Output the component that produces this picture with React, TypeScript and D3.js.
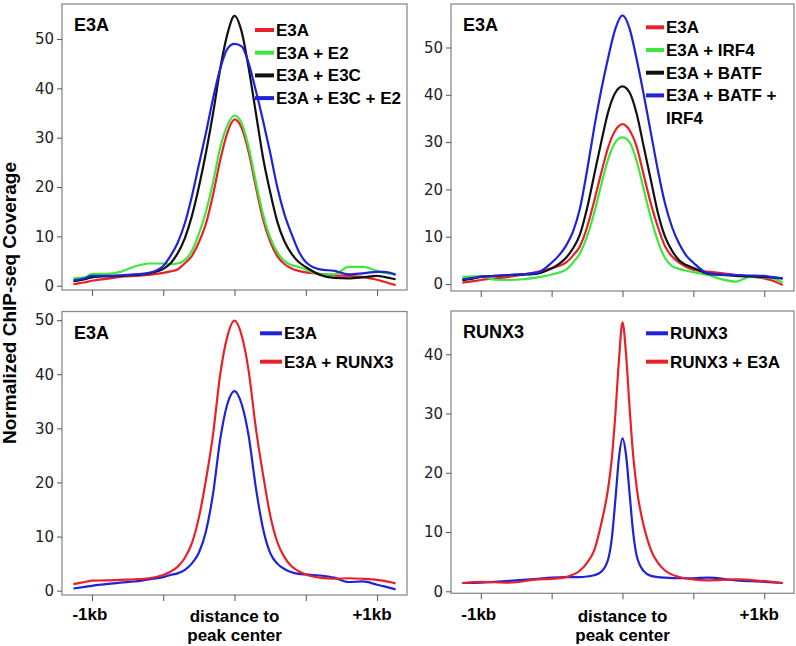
import React, { useEffect, useRef } from "react";
import * as d3 from "d3";

// distance to peak center, in kb
const KB = [
  -1.13, -1.05, -1.0, -0.9, -0.8, -0.7, -0.6, -0.5,
  -0.45, -0.4, -0.35, -0.3, -0.25, -0.2, -0.15, -0.1, -0.05,
  0,
  0.05, 0.1, 0.15, 0.2, 0.25, 0.3, 0.35, 0.4, 0.45, 0.5,
  0.6, 0.7, 0.8, 0.9, 1.0, 1.05, 1.13,
];
const KB_RUNX3 = [
  -1.13, -1.0, -0.8, -0.6, -0.5, -0.4, -0.3, -0.25, -0.2, -0.15, -0.1, -0.075, -0.05, -0.025,
  0,
  0.025, 0.05, 0.075, 0.1, 0.15, 0.2, 0.25, 0.3, 0.4, 0.5, 0.6, 0.8, 1.0, 1.13,
];

// panel 1: E3A with E2 / E3C
const p1E3A = [0.3, 0.7, 1.0, 1.4, 1.8, 2.0, 2.2, 2.6, 2.9, 3.3, 4.5, 6.0, 8.8, 12.6, 18.5, 25.5, 31.0, 33.7, 32.0, 27.0, 20.0, 13.5, 9.0, 6.0, 4.4, 3.5, 3.0, 2.7, 2.4, 2.1, 2.0, 1.8, 1.2, 0.8, 0.1];
const p1E2 = [1.5, 1.7, 2.4, 2.4, 2.8, 3.9, 4.5, 4.5, 4.4, 4.5, 5.2, 7.0, 10.5, 15.0, 21.0, 28.0, 32.5, 34.5, 33.0, 28.0, 21.0, 14.5, 9.8, 6.8, 5.0, 4.2, 3.8, 3.3, 2.3, 2.3, 3.8, 3.8, 3.0, 2.6, 2.4];
const p1E3C = [0.9, 1.3, 1.7, 1.9, 2.0, 2.2, 2.5, 3.4, 4.5, 6.5, 9.5, 14.0, 20.0, 27.0, 35.0, 44.0, 51.0, 54.7, 51.5, 44.0, 35.0, 26.0, 19.0, 13.0, 9.0, 6.5, 4.8, 3.8, 2.2, 1.6, 1.5, 1.7, 2.0, 1.8, 1.3];
const p1E3CE2 = [1.1, 1.5, 2.0, 2.0, 2.1, 2.3, 2.6, 4.0, 6.0, 8.6, 12.5, 18.0, 24.5, 31.0, 38.0, 44.0, 48.0, 49.0, 48.5, 45.0, 39.5, 33.5, 27.0, 20.0, 14.5, 10.5, 7.0, 4.8, 3.3, 3.0, 2.3, 2.5, 2.8, 2.8, 2.2];

// panel 2: E3A with IRF4 / BATF
const p2E3A = [0.3, 0.6, 0.85, 1.2, 1.5, 2.0, 2.6, 3.3, 3.8, 4.5, 6.0, 8.0, 12.0, 17.5, 23.5, 29.0, 32.5, 33.8, 32.5, 29.0, 23.0, 17.0, 12.0, 8.0, 5.8, 4.5, 3.6, 3.0, 2.6, 2.3, 1.9, 1.6, 1.2, 0.8, -0.2];
const p2IRF4 = [1.5, 1.6, 1.7, 0.9, 0.85, 1.0, 1.4, 2.0, 2.4, 3.0, 4.5, 6.5, 10.0, 15.0, 21.0, 26.5, 30.0, 31.0, 30.0, 26.0, 20.0, 14.0, 9.0, 5.5, 3.8, 3.2, 2.8, 2.5, 1.9, 1.0, 0.5, 1.5, 1.4, 1.3, 0.3];
const p2BATF = [0.8, 1.2, 1.5, 1.7, 1.9, 2.0, 2.2, 3.3, 4.2, 5.5, 7.5, 10.5, 16.0, 23.0, 30.0, 36.5, 40.5, 41.8, 40.5, 36.0, 29.0, 22.0, 15.0, 10.0, 7.0, 5.0, 4.0, 3.4, 2.2, 1.9, 1.7, 1.6, 1.5, 1.4, 1.2];
const p2BATFIRF4 = [1.0, 1.3, 1.5, 1.7, 1.9, 2.1, 2.4, 4.5, 6.0, 8.0, 11.0, 16.0, 24.0, 33.0, 41.0, 48.0, 54.0, 56.8, 54.0, 47.5, 40.0, 32.0, 24.0, 17.0, 12.0, 8.5, 6.0, 4.5, 2.3, 2.0, 1.9, 1.8, 1.7, 1.5, 1.2];

// panel 3: E3A with RUNX3
const p3E3A = [0.4, 0.7, 0.9, 1.2, 1.5, 1.7, 2.1, 2.5, 2.9, 3.2, 3.8, 5.0, 7.0, 11.0, 18.0, 28.0, 34.5, 36.9, 34.5, 28.5, 19.0, 11.5, 7.0, 5.0, 4.0, 3.4, 3.1, 3.0, 2.8, 2.4, 1.6, 1.7, 1.1, 0.8, 0.25];
const p3RUNX3 = [1.2, 1.6, 1.85, 1.9, 2.0, 2.1, 2.3, 2.9, 3.5, 4.4, 6.0, 8.7, 13.5, 20.5, 29.0, 40.0, 47.0, 49.9, 47.2, 40.5, 30.0, 21.5, 14.0, 9.0, 6.2, 4.5, 3.6, 3.0, 2.4, 2.2, 2.3, 2.2, 2.0, 1.8, 1.35];

// panel 4: RUNX3 with E3A
const p4RUNX3 = [1.4, 1.45, 1.75, 2.1, 2.3, 2.4, 2.4, 2.5, 2.7, 3.3, 5.5, 9.0, 15.5, 22.5, 25.8, 23.0, 16.5, 10.0, 6.0, 3.4, 2.6, 2.4, 2.3, 2.2, 2.2, 2.3, 1.85, 1.6, 1.4];
const p4E3A = [1.4, 1.6, 1.45, 2.0, 2.1, 2.4, 3.5, 4.8, 6.9, 11.4, 17.6, 22.5, 30.0, 39.0, 45.4, 40.0, 31.0, 23.0, 17.5, 11.0, 7.0, 4.8, 3.5, 2.4, 2.0, 1.85, 2.0, 1.7, 1.4];

const Y_TICKS_50 = [0, 10, 20, 30, 40, 50];
const Y_TICKS_40 = [0, 10, 20, 30, 40];
const X_TICKS = [-1, -0.5, 0, 0.5, 1];

const RED = "#e8202a";
const GREEN = "#3ee63e";
const BLACK = "#111111";
const BLUE = "#1f22d8";

const BOLD = "'Liberation Sans', Arial, sans-serif";
const TICK_FONT = "'DejaVu Sans', sans-serif";

const panels = [
  {
    title: "E3A",
    box: [62, 4, 407, 290],
    yDomain: [-0.87, 57.1],
    yTicks: Y_TICKS_50,
    kb: KB,
    legend: { x: 255, y: 30, dy: 22.7, len: 19 },
    series: [
      { label: ["E3A"], color: RED, values: p1E3A },
      { label: ["E3A + E2"], color: GREEN, values: p1E2 },
      { label: ["E3A + E3C"], color: BLACK, values: p1E3C },
      { label: ["E3A + E3C + E2"], color: BLUE, values: p1E3CE2 },
    ],
    bottomLabels: false,
  },
  {
    title: "E3A",
    box: [451, 4, 794, 291],
    yDomain: [-1.48, 59.2],
    yTicks: Y_TICKS_50,
    kb: KB,
    legend: { x: 646, y: 27.3, dy: 22.7, len: 18 },
    series: [
      { label: ["E3A"], color: RED, values: p2E3A },
      { label: ["E3A + IRF4"], color: GREEN, values: p2IRF4 },
      { label: ["E3A + BATF"], color: BLACK, values: p2BATF },
      { label: ["E3A + BATF +", "IRF4"], color: BLUE, values: p2BATFIRF4 },
    ],
    bottomLabels: false,
  },
  {
    title: "E3A",
    box: [62, 311.5, 407, 595],
    yDomain: [-0.8, 51.6],
    yTicks: Y_TICKS_50,
    kb: KB,
    legend: { x: 260, y: 333.3, dy: 28.4, len: 22 },
    series: [
      { label: ["E3A"], color: BLUE, values: p3E3A },
      { label: ["E3A + RUNX3"], color: RED, values: p3RUNX3 },
    ],
    bottomLabels: true,
  },
  {
    title: "RUNX3",
    box: [451, 311, 794, 593.3],
    yDomain: [-0.34, 47.3],
    yTicks: Y_TICKS_40,
    kb: KB_RUNX3,
    legend: { x: 646, y: 333.3, dy: 28.4, len: 22 },
    series: [
      { label: ["RUNX3"], color: BLUE, values: p4RUNX3 },
      { label: ["RUNX3 + E3A"], color: RED, values: p4E3A },
    ],
    bottomLabels: true,
  },
];

const App: React.FC = () => {
  const ref = useRef<SVGSVGElement>(null);

  useEffect(() => {
    const svg = d3.select(ref.current);
    svg.selectAll("*").remove();

    panels.forEach((p) => {
      const [x0, y0, x1, y1] = p.box;
      const x = d3.scaleLinear().domain([-1.21, 1.21]).range([x0, x1]);
      const y = d3.scaleLinear().domain(p.yDomain).range([y1, y0]);
      const g = svg.append("g");

      // curves
      const line = d3
        .line<number>()
        .x((_, i) => x(p.kb[i]))
        .y((d) => y(d))
        .curve(d3.curveMonotoneX);
      p.series.forEach((s) => {
        g.append("path")
          .attr("d", line(s.values) as string)
          .attr("fill", "none")
          .attr("stroke", s.color)
          .attr("stroke-width", 2.2)
          .attr("stroke-linejoin", "round");
      });

      // frame
      g.append("rect")
        .attr("x", x0)
        .attr("y", y0)
        .attr("width", x1 - x0)
        .attr("height", y1 - y0)
        .attr("fill", "none")
        .attr("stroke", "#8c8c8c")
        .attr("stroke-width", 1.3);

      // y axis
      const ya = g
        .append("g")
        .attr("transform", `translate(${x0},0)`)
        .call(d3.axisLeft(y).tickValues(p.yTicks).tickSize(5).tickPadding(3));
      ya.select(".domain").remove();
      ya.selectAll(".tick line").attr("stroke", "#555");
      ya.selectAll(".tick text")
        .attr("font-family", TICK_FONT)
        .attr("font-size", 15)
        .attr("fill", "#222");

      // x axis
      const xa = g
        .append("g")
        .attr("transform", `translate(0,${y1})`)
        .call(d3.axisBottom(x).tickValues(X_TICKS).tickSize(6).tickFormat(() => ""));
      xa.select(".domain").remove();
      xa.selectAll(".tick line").attr("stroke", "#555");

      // title
      g.append("text")
        .attr("x", x0 + 12)
        .attr("y", y0 + 27)
        .attr("font-family", BOLD)
        .attr("font-weight", "bold")
        .attr("font-size", 18)
        .text(p.title);

      // legend
      let row = 0;
      p.series.forEach((s) => {
        const ly = p.legend.y + row * p.legend.dy;
        g.append("line")
          .attr("x1", p.legend.x)
          .attr("x2", p.legend.x + p.legend.len)
          .attr("y1", ly)
          .attr("y2", ly)
          .attr("stroke", s.color)
          .attr("stroke-width", 4);
        s.label.forEach((t, k) => {
          g.append("text")
            .attr("x", p.legend.x + p.legend.len + 2)
            .attr("y", ly + k * p.legend.dy + 6)
            .attr("font-family", BOLD)
            .attr("font-weight", "bold")
            .attr("font-size", 17)
            .text(t);
        });
        row += s.label.length;
      });

      if (p.bottomLabels) {
        const lab = (tx: number, ty: number, t: string) =>
          g.append("text")
            .attr("x", tx)
            .attr("y", ty)
            .attr("text-anchor", "middle")
            .attr("font-family", BOLD)
            .attr("font-weight", "bold")
            .attr("font-size", 17)
            .text(t);
        lab(x(-1) - 2, 620, "-1kb");
        lab(x(0), 621.5, "distance to");
        lab(x(0), 640.5, "peak center");
        lab(x(1) - 5, 620, "+1kb");
      }
    });

    svg
      .append("text")
      .attr("transform", "translate(15.5,303) rotate(-90)")
      .attr("text-anchor", "middle")
      .attr("font-family", BOLD)
      .attr("font-weight", "bold")
      .attr("font-size", 19)
      .text("Normalized ChIP-seq Coverage");
  }, []);

  return (
    <svg
      ref={ref}
      width={796}
      height={646}
      style={{ position: "absolute", left: 0, top: 0, background: "#fff" }}
    />
  );
};

export default App;
